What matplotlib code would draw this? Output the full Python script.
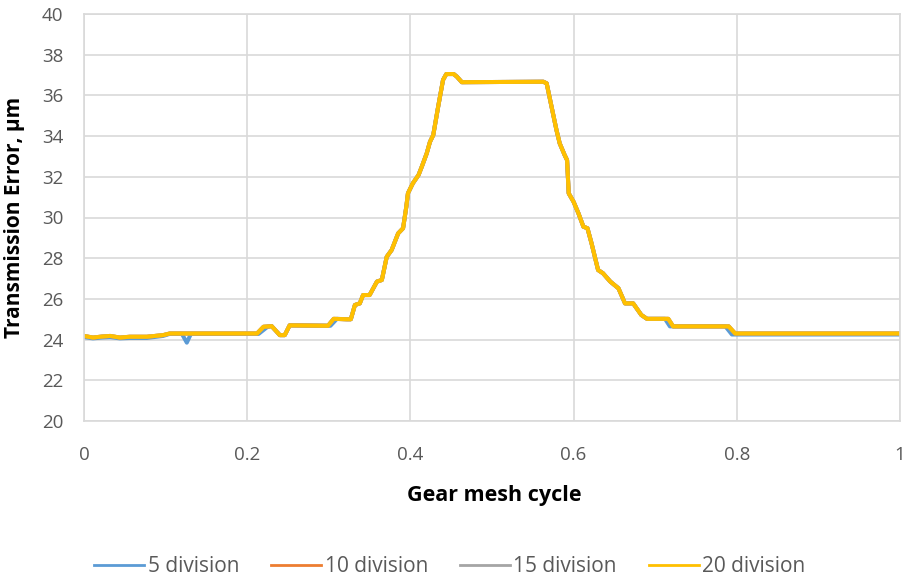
import matplotlib
matplotlib.use("Agg")
import matplotlib.pyplot as plt

plt.rcParams['font.family'] = ['Open Sans', 'DejaVu Sans']

# 20 division (yellow, on top)
x_20 = [0.000, 0.011, 0.022, 0.032, 0.044, 0.056, 0.077, 0.097, 0.105, 0.212,
        0.220, 0.230, 0.240, 0.246, 0.252, 0.299, 0.306, 0.322, 0.327, 0.332,
        0.338, 0.342, 0.350, 0.359, 0.365, 0.371, 0.377, 0.385, 0.391, 0.395,
        0.397, 0.403, 0.410, 0.414, 0.420, 0.424, 0.428, 0.434, 0.440, 0.444,
        0.453, 0.457, 0.463, 0.563, 0.567, 0.573, 0.579, 0.583, 0.589, 0.592,
        0.594, 0.600, 0.606, 0.612, 0.617, 0.622, 0.630, 0.636, 0.645, 0.655,
        0.663, 0.673, 0.683, 0.690, 0.716, 0.722, 0.790, 0.798, 1.000]
te_20 = [24.18, 24.10, 24.15, 24.18, 24.10, 24.14, 24.14, 24.22, 24.30, 24.30,
         24.63, 24.66, 24.22, 24.22, 24.70, 24.68, 25.02, 25.00, 25.00, 25.70,
         25.78, 26.19, 26.19, 26.85, 26.93, 28.07, 28.40, 29.22, 29.47, 30.53,
         31.19, 31.68, 32.09, 32.50, 33.15, 33.72, 34.05, 35.44, 36.76, 37.05,
         37.05, 36.92, 36.65, 36.67, 36.59, 35.44, 34.30, 33.64, 33.07, 32.82,
         31.19, 30.77, 30.20, 29.55, 29.47, 28.73, 27.42, 27.26, 26.85, 26.52,
         25.78, 25.78, 25.21, 25.02, 25.02, 24.65, 24.65, 24.30, 24.30]

# 15 and 10 division (hidden under 20 division)
x_15 = list(x_20)
te_15 = list(te_20)
x_10 = list(x_20)
te_10 = list(te_20)

# 5 division (blue)
x_5 = [0.000, 0.011, 0.022, 0.032, 0.044, 0.056, 0.077, 0.097, 0.105, 0.120,
       0.126, 0.131, 0.214, 0.225, 0.230, 0.240, 0.246, 0.252, 0.302, 0.310,
       0.322, 0.327, 0.332, 0.338, 0.342, 0.350, 0.359, 0.365, 0.371, 0.377,
       0.385, 0.391, 0.395, 0.397, 0.403, 0.410, 0.414, 0.420, 0.424, 0.428,
       0.434, 0.440, 0.444, 0.453, 0.457, 0.463, 0.563, 0.567, 0.573, 0.579,
       0.583, 0.589, 0.592, 0.594, 0.600, 0.606, 0.612, 0.617, 0.622, 0.630,
       0.636, 0.645, 0.655, 0.663, 0.673, 0.683, 0.690, 0.712, 0.718, 0.786,
       0.794, 1.000]
te_5 = [24.12, 24.06, 24.10, 24.12, 24.06, 24.08, 24.08, 24.18, 24.28, 24.28,
        23.85, 24.28, 24.28, 24.63, 24.66, 24.22, 24.22, 24.70, 24.68, 25.02,
        25.00, 25.00, 25.70, 25.78, 26.19, 26.19, 26.85, 26.93, 28.07, 28.40,
        29.22, 29.47, 30.53, 31.19, 31.68, 32.09, 32.50, 33.15, 33.72, 34.05,
        35.44, 36.76, 37.05, 37.05, 36.92, 36.65, 36.67, 36.59, 35.44, 34.30,
        33.64, 33.07, 32.82, 31.19, 30.77, 30.20, 29.55, 29.47, 28.73, 27.42,
        27.26, 26.85, 26.52, 25.78, 25.78, 25.21, 25.02, 25.02, 24.65, 24.65,
        24.25, 24.25]

labels = ["5 division", "10 division", "15 division", "20 division"]
colors = ["#5B9BD5", "#ED7D31", "#A5A5A5", "#FFC000"]

x_ticks = [0, 0.2, 0.4, 0.6, 0.8, 1]
x_tick_labels = ["0", "0.2", "0.4", "0.6", "0.8", "1"]
y_ticks = [20, 22, 24, 26, 28, 30, 32, 34, 36, 38, 40]

W, H = 910, 578
fig = plt.figure(figsize=(W / 100, H / 100), dpi=100)
ax = fig.add_axes([84 / W, 1 - 421 / H, 816 / W, 407 / H])

series = [(x_5, te_5), (x_10, te_10), (x_15, te_15), (x_20, te_20)]
handles = []
for (xs, ys), lab, c in zip(series, labels, colors):
    ax.plot(xs, ys, color=c, lw=2.9, solid_joinstyle='round',
            solid_capstyle='round')
    h, = ax.plot([], [], color=c, lw=2.0, label=lab)
    handles.append(h)

ax.set_xlim(0, 1)
ax.set_ylim(20, 40)
ax.set_xticks(x_ticks)
ax.set_xticklabels(x_tick_labels)
ax.set_yticks(y_ticks)
ax.grid(True, color="#D9D9D9", lw=1.2)
ax.set_axisbelow(True)
for s in ax.spines.values():
    s.set_color("#D9D9D9")
    s.set_linewidth(1.2)
ax.tick_params(length=0, labelsize=13.5, labelcolor="#595959")
ax.tick_params(axis='x', pad=18)
ax.tick_params(axis='y', pad=15)

fig.text(494 / W, 1 - 496 / H, "Gear mesh cycle", fontsize=15.5, fontweight='bold',
         ha='center', va='center', color='black')
fig.text(15 / W, 1 - 217 / H, "Transmission Error, μm", fontsize=15,
         fontweight='bold', rotation=90, ha='center', va='center', color='black')

leg = fig.legend(handles=handles, loc='center', bbox_to_anchor=(450 / W, 1 - 567 / H),
                 ncol=4, frameon=False, fontsize=15, handlelength=2.4,
                 handletextpad=0.15, columnspacing=1.55)
for t in leg.get_texts():
    t.set_color("#595959")

fig.savefig("out.png", dpi=100)
